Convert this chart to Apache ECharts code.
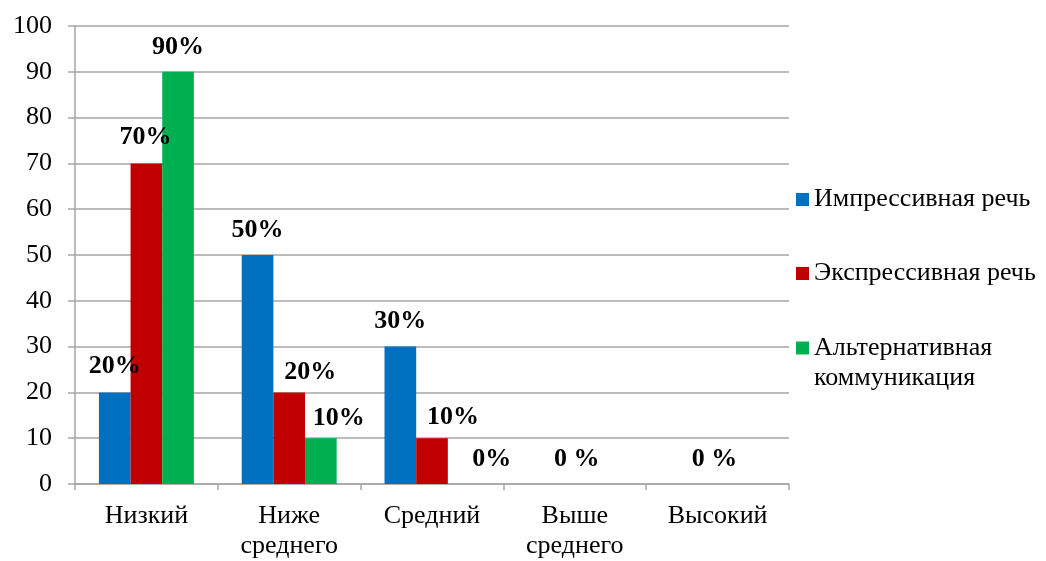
<!DOCTYPE html>
<html>
<head>
<meta charset="utf-8">
<script src="https://cdn.jsdelivr.net/npm/echarts@6/dist/echarts.min.js"></script>
<style>html,body{margin:0;padding:0;background:#fff}#c{width:1046px;height:561px}</style>
</head>
<body>
<div id="c"></div>
<script>
var categories = ['Низкий', 'Ниже\nсреднего', 'Средний', 'Выше\nсреднего', 'Высокий'];
var seriesNames = ['Импрессивная речь', 'Экспрессивная речь', 'Альтернативная коммуникация'];
var legendTexts = ['Импрессивная речь', 'Экспрессивная речь', 'Альтернативная\nкоммуникация'];
var impressive = [20, 50, 30, 0, 0];
var expressive = [70, 20, 10, 0, 0];
var alternative = [90, 10, 0, 0, 0];
var impressiveLabels = ['20%', '50%', '30%', null, null];
var expressiveLabels = ['70%', '20%', '10%', '0 %', '0 %'];
var alternativeLabels = ['90%', '10%', '0%', null, null];
var yTicks = [0, 10, 20, 30, 40, 50, 60, 70, 80, 90, 100];

// label placement (style): [dx, height of label centre above bar top]
var labelShift = [
  [[0, 26], [0, 25], [0, 25], [0, 25], [0, 25]],
  [[-1, 26], [21, 20], [21, 21], [2, 25], [-3, 25]],
  [[0, 25], [18, 20], [28, 25], [0, 25], [0, 25]]
];
var colors = ['#0070C0', '#C00000', '#00B050'];
var FONT = '"Liberation Serif", "Times New Roman", serif';
var LBL = 26;

function buildData(values, labels, si) {
  return values.map(function (v, i) {
    var lab = labels[i];
    var sh = labelShift[si][i];
    return {
      value: v,
      label: lab == null ? { show: false } : {
        show: true, position: 'top', distance: 0,
        offset: [sh[0], -(sh[1] - LBL / 2)],
        formatter: lab
      }
    };
  });
}
var allValues = [impressive, expressive, alternative];
var allLabels = [impressiveLabels, expressiveLabels, alternativeLabels];
var series = allValues.map(function (vals, si) {
  return {
    name: seriesNames[si], type: 'bar',
    barGap: '0%', barCategoryGap: '33.5%',
    itemStyle: { color: colors[si] },
    label: { fontFamily: FONT, fontWeight: 'bold', fontSize: LBL, lineHeight: LBL, color: '#000' },
    data: buildData(vals, allLabels[si], si)
  };
});

var gridColor = '#a6a6a6';
var LH = 30;
function legendAt(i, top, prefix) {
  return {
    orient: 'vertical', left: 796, top: top, padding: 0,
    itemWidth: 13, itemHeight: 13, itemGap: 0, icon: 'rect',
    textStyle: { fontFamily: FONT, fontSize: 26, lineHeight: LH, color: '#000' },
    formatter: function () { return prefix + legendTexts[i]; },
    data: [seriesNames[i]]
  };
}
var chart = echarts.init(document.getElementById('c'));
chart.setOption({
  animation: false,
  color: colors,
  grid: { left: 75, right: 257, top: 26, bottom: 76, containLabel: false },
  legend: [
    legendAt(0, 199.5 - LH / 2, ''),
    legendAt(1, 273.5 - LH / 2, ''),
    legendAt(2, 348 - LH * 1.5, '\n')
  ],
  xAxis: {
    type: 'category', data: categories,
    axisLine: { lineStyle: { color: gridColor, width: 1.5 } },
    axisTick: { show: true, length: 6, alignWithLabel: false, lineStyle: { color: gridColor, width: 1.5 } },
    axisLabel: { fontFamily: FONT, fontSize: 26, lineHeight: 30, color: '#000', margin: 17, interval: 0 }
  },
  yAxis: {
    type: 'value', min: yTicks[0], max: yTicks[yTicks.length - 1], interval: yTicks[1] - yTicks[0],
    axisLine: { show: true, lineStyle: { color: gridColor, width: 1.5 } },
    axisTick: { show: true, length: 7, lineStyle: { color: gridColor, width: 1.5 } },
    splitLine: { lineStyle: { color: gridColor, width: 1.5 } },
    axisLabel: { fontFamily: FONT, fontSize: 26, color: '#000', margin: 23 }
  },
  series: series
});
</script>
</body>
</html>
